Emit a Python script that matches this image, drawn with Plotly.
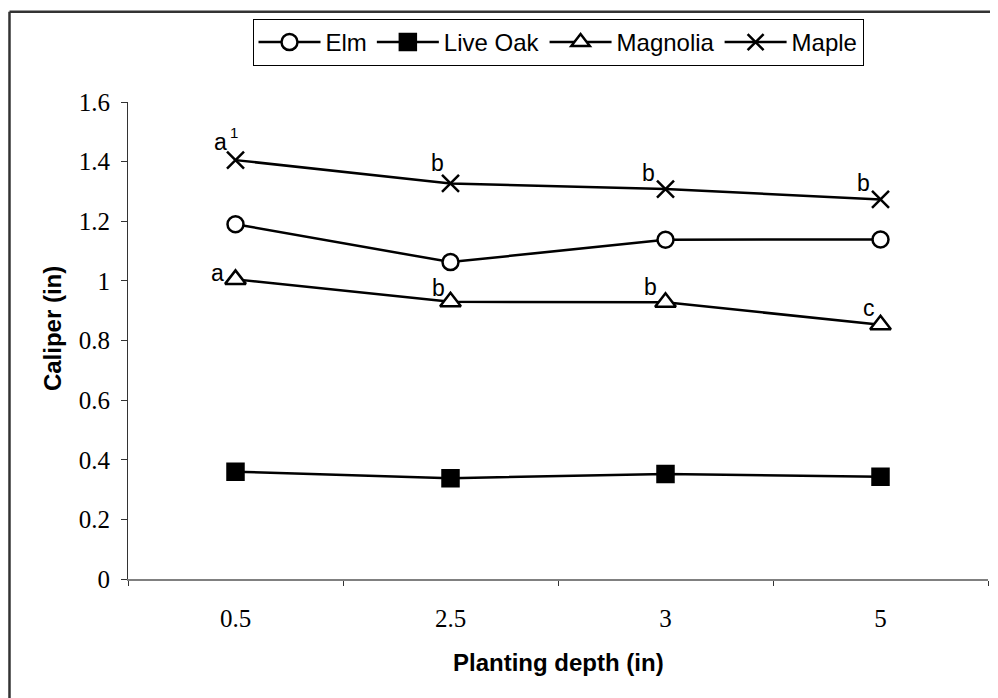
import plotly.graph_objects as go

depths = ["0.5", "2.5", "3", "5"]
elm = [1.19, 1.063, 1.138, 1.139]
live_oak = [0.36, 0.338, 0.352, 0.343]
magnolia = [1.005, 0.93, 0.928, 0.853]
maple = [1.405, 1.327, 1.308, 1.273]

maple_letters = ["a", "b", "b", "b"]
magnolia_letters = ["a", "b", "b", "c"]

y_ticks = [0, 0.2, 0.4, 0.6, 0.8, 1.0, 1.2, 1.4, 1.6]

SANS = "Liberation Sans, Arial"
SERIF = "Liberation Serif, Times New Roman"

fig = go.Figure()

def add(name, vals, symbol, size, filled=False):
    fig.add_trace(go.Scatter(
        x=depths, y=vals, name=name, mode="lines+markers",
        line=dict(color="black", width=2.5),
        marker=dict(symbol=symbol, size=size, color="black" if filled else "white",
                    line=dict(color="black", width=2.5)),
    ))

add("Elm", elm, "circle", 16)
add("Live Oak", live_oak, "square", 16, filled=True)
add("Magnolia", magnolia, "triangle-up", 18)
fig.add_trace(go.Scatter(
    x=depths, y=maple, name="Maple", mode="lines+markers",
    line=dict(color="black", width=2.5),
    marker=dict(symbol="x-thin-open", size=17, color="black", line=dict(color="black", width=2.5)),
))

annots = []
maple_offsets = [(-15, 18), (-13, 20), (-17, 16), (-17, 16)]
mag_offsets = [(-18, 6), (-12, 14), (-15, 15), (-12, 17)]
for i, d in enumerate(depths):
    dx, dy = maple_offsets[i]
    annots.append(dict(x=i, y=maple[i], xref="x", yref="y", text=maple_letters[i],
                       showarrow=False, xshift=dx, yshift=dy,
                       font=dict(family=SANS, size=23, color="black")))
    dx, dy = mag_offsets[i]
    annots.append(dict(x=i, y=magnolia[i], xref="x", yref="y", text=magnolia_letters[i],
                       showarrow=False, xshift=dx, yshift=dy,
                       font=dict(family=SANS, size=23, color="black")))
# superscript 1 on first maple label
annots.append(dict(x=0, y=maple[0], xref="x", yref="y", text="1",
                   showarrow=False, xshift=-2, yshift=28,
                   font=dict(family=SANS, size=15, color="black")))
# axis titles
annots.append(dict(x=0.5, y=-0.176, xref="paper", yref="paper", yanchor="middle",
                   text="<b>Planting depth (in)</b>", showarrow=False,
                   font=dict(family=SANS, size=24, color="black")))
annots.append(dict(x=-0.0884, y=0.526, xref="paper", yref="paper", xanchor="center",
                   yanchor="middle",
                   text="<b>Caliper (in)</b>", showarrow=False, textangle=-90,
                   font=dict(family=SANS, size=24, color="black")))

fig.update_layout(
    width=990, height=690,
    margin=dict(l=120, r=10, t=94, b=119),
    paper_bgcolor="white", plot_bgcolor="white",
    showlegend=True,
    legend=dict(orientation="h", x=0.5, xanchor="center", y=1.174, yanchor="top",
                bordercolor="black", borderwidth=1,
                font=dict(family=SANS, size=24, color="black"),
                tracegroupgap=0, itemwidth=62),
    annotations=annots,
    shapes=[
        dict(type="line", xref="paper", yref="paper", x0=-0.1378, x1=1.02, y0=1.189, y1=1.189,
             line=dict(color="#333333", width=2.5)),
        dict(type="line", xref="paper", yref="paper", x0=-0.1378, x1=-0.1378, y0=1.189, y1=-0.25,
             line=dict(color="#333333", width=2.5)),
    ],
)
fig.update_xaxes(type="category", range=[-0.5, 3.5], showline=True, linecolor="#808080",
                 linewidth=1.5, ticks="outside", tickson="boundaries", ticklen=5,
                 tickcolor="#333333", showgrid=False, zeroline=False,
                 ticklabelstandoff=16,
                 tickfont=dict(family=SERIF, size=25, color="black"))
fig.update_yaxes(range=[0, 1.6], tickvals=y_ticks, showline=True, linecolor="#333333",
                 linewidth=1, ticks="outside", ticklen=6, tickcolor="#333333",
                 showgrid=False, zeroline=False, ticklabelstandoff=6,
                 tickfont=dict(family=SERIF, size=25, color="black"))

fig.write_html("out.html")
